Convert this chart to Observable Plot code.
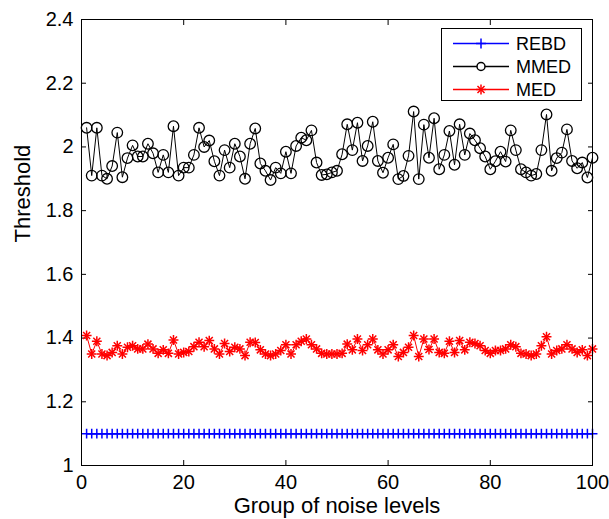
<!DOCTYPE html>
<html>
<head>
<meta charset="utf-8">
<script src="https://cdn.jsdelivr.net/npm/d3@7"></script>
<script src="https://cdn.jsdelivr.net/npm/@observablehq/plot@0.6"></script>
<style>
  html, body { margin: 0; padding: 0; background: #fff; }
  svg { display: block; }
</style>
</head>
<body>
<div id="chart"></div>
<script>
// ---- data ----
const groups = d3.range(1, 101);

const rebd = [
  1.1,1.1,1.1,1.1,1.1,1.1,1.1,1.1,1.1,1.1,
  1.1,1.1,1.1,1.1,1.1,1.1,1.1,1.1,1.1,1.1,
  1.1,1.1,1.1,1.1,1.1,1.1,1.1,1.1,1.1,1.1,
  1.1,1.1,1.1,1.1,1.1,1.1,1.1,1.1,1.1,1.1,
  1.1,1.1,1.1,1.1,1.1,1.1,1.1,1.1,1.1,1.1,
  1.1,1.1,1.1,1.1,1.1,1.1,1.1,1.1,1.1,1.1,
  1.1,1.1,1.1,1.1,1.1,1.1,1.1,1.1,1.1,1.1,
  1.1,1.1,1.1,1.1,1.1,1.1,1.1,1.1,1.1,1.1,
  1.1,1.1,1.1,1.1,1.1,1.1,1.1,1.1,1.1,1.1,
  1.1,1.1,1.1,1.1,1.1,1.1,1.1,1.1,1.1,1.1
];

const mmed = [
  2.06, 1.91, 2.06, 1.91, 1.90, 1.94, 2.045, 1.905, 1.965, 2.005,
  1.97, 1.97, 2.01, 1.98, 1.92, 1.975, 1.92, 2.065, 1.91, 1.935,
  1.935, 1.975, 2.06, 2.0, 2.02, 1.955, 1.91, 1.99, 1.935, 2.01,
  1.97, 1.90, 2.01, 2.058, 1.948, 1.925, 1.896, 1.935, 1.917, 1.985,
  1.917, 2.003, 2.029, 2.021, 2.052, 1.951, 1.912, 1.914, 1.92, 1.925,
  1.977, 2.071, 1.99, 2.076, 1.956, 2.003, 2.079, 1.956, 1.919, 1.966,
  2.008, 1.899, 1.909, 1.972, 2.111, 1.899, 2.07, 1.966, 2.09, 1.93,
  1.975, 2.05, 1.944, 2.071, 1.975, 2.042, 2.021, 1.996, 1.97, 1.93,
  1.955, 1.985, 1.954, 2.052, 1.99, 1.93, 1.92, 1.91, 1.915, 1.99,
  2.102, 1.925, 1.965, 1.982, 2.055, 1.956, 1.933, 1.951, 1.904, 1.966
];

const med = [
  1.408, 1.350, 1.390, 1.350, 1.345, 1.355, 1.376, 1.350, 1.371, 1.376,
  1.366, 1.366, 1.381, 1.366, 1.352, 1.363, 1.352, 1.394, 1.350, 1.355,
  1.358, 1.373, 1.387, 1.373, 1.392, 1.366, 1.350, 1.383, 1.358, 1.371,
  1.366, 1.345, 1.387, 1.386, 1.363, 1.350, 1.345, 1.350, 1.361, 1.379,
  1.350, 1.379, 1.390, 1.397, 1.379, 1.366, 1.352, 1.350, 1.350, 1.350,
  1.352, 1.381, 1.363, 1.397, 1.361, 1.379, 1.397, 1.363, 1.350, 1.363,
  1.379, 1.342, 1.355, 1.371, 1.408, 1.342, 1.397, 1.364, 1.397, 1.355,
  1.352, 1.390, 1.355, 1.392, 1.363, 1.387, 1.383, 1.376, 1.361, 1.352,
  1.361, 1.361, 1.366, 1.379, 1.373, 1.352, 1.350, 1.345, 1.350, 1.376,
  1.404, 1.350, 1.361, 1.366, 1.379, 1.366, 1.355, 1.363, 1.345, 1.366
];

const seriesNames = ["REBD", "MMED", "MED"];
const seriesColors = ["#0000ff", "#000000", "#ff0000"];
const xTicks = [0, 20, 40, 60, 80, 100];
const yTicks = [1, 1.2, 1.4, 1.6, 1.8, 2, 2.2, 2.4];
const xLabel = "Group of noise levels";
const yLabel = "Threshold";

// ---- tables ----
const rebdData = groups.map((g, i) => ({x: g, y: rebd[i]}));
const mmedData = groups.map((g, i) => ({x: g, y: mmed[i]}));
const medData = groups.map((g, i) => ({x: g, y: med[i]}));

const FONT = '"Liberation Sans", Arial, Helvetica, sans-serif';
const fmt = d => String(+d.toFixed(1));

const chart = Plot.plot({
  width: 609,
  height: 519,
  marginLeft: 81,
  marginRight: 17,
  marginTop: 19,
  marginBottom: 54,
  style: {fontFamily: FONT, fontSize: "20px", color: "#000", background: "#fff", overflow: "visible"},
  x: {domain: [0, 100]},
  y: {domain: [1, 2.4]},
  marks: [
    // inward ticks on all four sides
    Plot.axisX(xTicks, {anchor: "bottom", tickSize: -5, tickFormat: () => "", label: null}),
    Plot.axisX(xTicks, {anchor: "top", tickSize: -5, tickFormat: () => "", label: null}),
    Plot.axisY(yTicks, {anchor: "left", tickSize: -5, tickFormat: () => "", label: null}),
    Plot.axisY(yTicks, {anchor: "right", tickSize: -5, tickFormat: () => "", label: null}),
    // tick labels
    Plot.axisX(xTicks, {anchor: "bottom", tickSize: 0, tickPadding: 9, tickFormat: fmt, label: null, fontSize: 20}),
    Plot.axisY(yTicks, {anchor: "left", tickSize: 0, tickPadding: 8, tickFormat: fmt, label: null, fontSize: 20}),
    // axis titles
    Plot.text([xLabel], {frameAnchor: "bottom", text: d => d, dy: 32, lineAnchor: "top", fontSize: 22}),
    Plot.text([yLabel], {frameAnchor: "left", text: d => d, dx: -59, rotate: -90, lineAnchor: "middle", fontSize: 22}),
    // REBD
    Plot.line(rebdData, {x: "x", y: "y", stroke: seriesColors[0], strokeWidth: 1.5}),
    Plot.dot(rebdData, {x: "x", y: "y", symbol: "plus", r: 3.3, stroke: seriesColors[0], strokeWidth: 1.5}),
    // MMED
    Plot.line(mmedData, {x: "x", y: "y", stroke: seriesColors[1], strokeWidth: 1}),
    Plot.dot(mmedData, {x: "x", y: "y", symbol: "circle", r: 5.3, stroke: seriesColors[1], fill: "none", strokeWidth: 1.3}),
    // MED
    Plot.line(medData, {x: "x", y: "y", stroke: seriesColors[2], strokeWidth: 1}),
    Plot.dot(medData, {x: "x", y: "y", symbol: "plus", r: 3.3, stroke: seriesColors[2], strokeWidth: 1.5}),
    Plot.dot(medData, {x: "x", y: "y", symbol: "times", r: 3.3, stroke: seriesColors[2], strokeWidth: 1.5}),
    Plot.frame({stroke: "#000", strokeWidth: 1})
  ]
});

document.getElementById("chart").appendChild(chart);

// ---- legend (inside the plot, top-right) ----
const svg = d3.select(chart);
const lg = svg.append("g").attr("class", "legend").attr("text-anchor", "start");
lg.append("rect")
  .attr("x", 441.5).attr("y", 28.5).attr("width", 140).attr("height", 72)
  .attr("fill", "#fff").attr("stroke", "#000").attr("stroke-width", 1);
const rowsY = [43.5, 66.5, 89.5];
const symbols = [
  [d3.symbolPlus],
  [d3.symbolCircle],
  [d3.symbolPlus, d3.symbolTimes]
];
seriesNames.forEach((name, i) => {
  const y = rowsY[i];
  lg.append("line")
    .attr("x1", 453).attr("x2", 509).attr("y1", y).attr("y2", y)
    .attr("stroke", seriesColors[i]).attr("stroke-width", 1.5);
  symbols[i].forEach(sym => {
    const size = sym === d3.symbolCircle ? Math.PI * 16 : Math.PI * 3.3 * 3.3;
    lg.append("path")
      .attr("transform", `translate(481,${y})`)
      .attr("d", d3.symbol(sym, size)())
      .attr("fill", sym === d3.symbolCircle ? "#fff" : "none")
      .attr("stroke", seriesColors[i])
      .attr("stroke-width", 1.5);
  });
  lg.append("text")
    .attr("x", 516).attr("y", y)
    .attr("dy", "0.35em")
    .attr("text-anchor", "start")
    .attr("font-family", FONT)
    .attr("font-size", 18)
    .attr("fill", "#000")
    .text(name);
});
</script>
</body>
</html>
